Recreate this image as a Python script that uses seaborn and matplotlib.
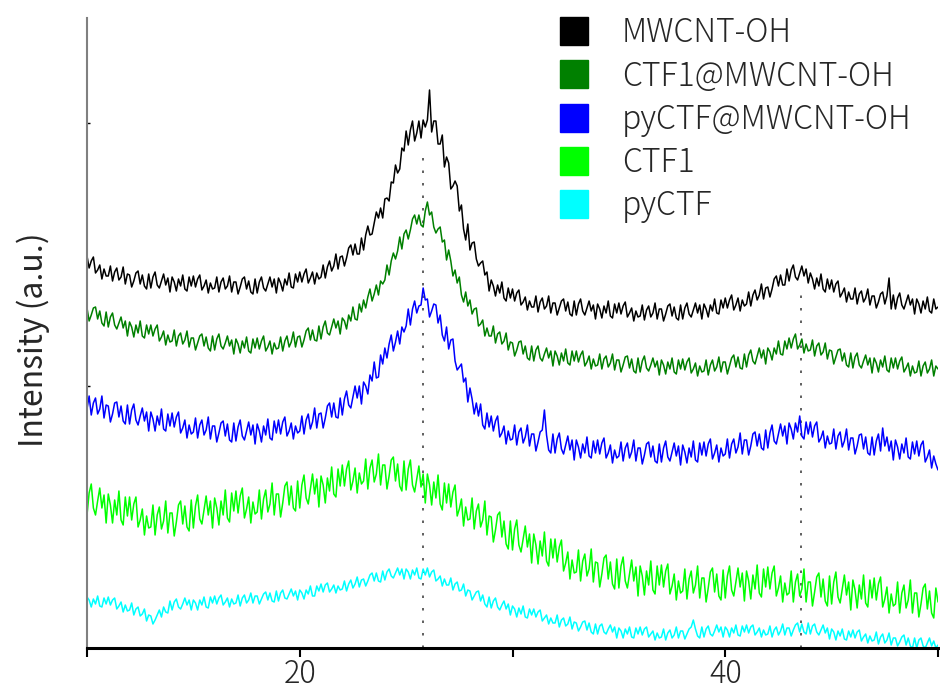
import numpy as np
import pandas as pd
import matplotlib
matplotlib.use("Agg")
import matplotlib.pyplot as plt
from matplotlib.lines import Line2D
import seaborn as sns

# 2-theta sampling (degrees), 0.1 deg step
two_theta = np.round(np.linspace(10, 50, 401), 2)

# Stacked XRD intensities (a.u., offsets included)
mwcnt_oh = [
    392, 380, 387, 391, 375, 378, 383, 369, 379, 372,
    372, 382, 367, 376, 380, 368, 371, 381, 364, 374,
    373, 361, 367, 375, 377, 364, 373, 362, 359, 374,
    360, 371, 376, 363, 360, 367, 374, 363, 370, 356,
    371, 366, 357, 369, 362, 373, 359, 357, 371, 362,
    372, 361, 369, 373, 358, 362, 368, 355, 365, 359,
    360, 371, 356, 366, 370, 359, 362, 372, 356, 366,
    366, 354, 361, 369, 371, 359, 367, 356, 354, 369,
    355, 366, 371, 360, 357, 364, 371, 361, 369, 355,
    370, 365, 357, 369, 363, 375, 361, 360, 374, 366,
    376, 366, 374, 379, 365, 370, 376, 364, 375, 369,
    371, 383, 370, 381, 387, 377, 382, 394, 379, 391,
    392, 382, 390, 400, 403, 393, 404, 394, 394, 410,
    398, 413, 422, 413, 414, 425, 436, 430, 440, 430,
    449, 450, 447, 466, 465, 483, 475, 479, 500, 497,
    517, 503, 518, 527, 507, 515, 527, 510, 528, 521,
    528, 558, 516, 527, 527, 504, 504, 513, 481, 491,
    485, 459, 462, 467, 462, 437, 443, 419, 408, 424,
    398, 405, 406, 389, 382, 385, 387, 373, 376, 357,
    368, 362, 352, 363, 355, 366, 350, 347, 360, 350,
    359, 347, 355, 358, 343, 346, 351, 338, 347, 341,
    341, 352, 336, 346, 350, 339, 342, 352, 335, 345,
    345, 333, 340, 347, 349, 337, 346, 334, 332, 347,
    333, 344, 349, 337, 333, 340, 347, 337, 343, 329,
    344, 339, 330, 342, 335, 347, 332, 330, 344, 335,
    345, 334, 342, 346, 331, 335, 340, 327, 337, 331,
    332, 343, 328, 338, 342, 331, 335, 345, 329, 339,
    339, 327, 334, 342, 344, 332, 341, 330, 328, 343,
    329, 340, 345, 334, 331, 338, 345, 335, 343, 329,
    344, 339, 331, 343, 337, 349, 335, 334, 348, 340,
    350, 340, 348, 353, 338, 343, 350, 337, 348, 342,
    344, 356, 342, 353, 358, 348, 353, 364, 349, 360,
    361, 351, 359, 369, 372, 362, 373, 363, 363, 379,
    367, 378, 383, 371, 368, 375, 382, 372, 379, 365,
    375, 369, 359, 370, 362, 374, 359, 356, 369, 359,
    368, 356, 364, 367, 351, 355, 360, 346, 356, 349,
    349, 360, 344, 354, 357, 346, 350, 359, 343, 352,
    352, 340, 346, 354, 356, 344, 352, 370, 339, 353,
    339, 350, 355, 343, 339, 346, 353, 343, 349, 334,
    349, 344, 335, 347, 339, 351, 337, 335, 349, 339,
    341,
]

ctf1_mwcnt = [
    340, 327, 333, 340, 341, 329, 337, 325, 322, 336,
    321, 331, 335, 323, 319, 325, 331, 320, 327, 312,
    326, 321, 311, 323, 315, 327, 312, 310, 323, 314,
    323, 312, 319, 323, 307, 311, 317, 303, 313, 306,
    307, 318, 302, 312, 315, 304, 308, 317, 301, 310,
    310, 298, 305, 312, 314, 302, 311, 300, 297, 312,
    298, 309, 314, 302, 299, 305, 312, 302, 308, 294,
    309, 304, 295, 307, 300, 311, 297, 295, 309, 300,
    310, 299, 307, 312, 297, 301, 307, 294, 305, 299,
    300, 311, 297, 307, 312, 301, 306, 316, 301, 311,
    312, 301, 308, 317, 320, 308, 318, 308, 307, 322,
    309, 321, 327, 315, 313, 321, 329, 320, 327, 314,
    330, 327, 319, 333, 327, 341, 329, 328, 344, 336,
    348, 340, 351, 359, 347, 354, 363, 353, 367, 364,
    368, 383, 373, 387, 395, 389, 397, 411, 399, 414,
    418, 409, 418, 429, 433, 424, 433, 423, 421, 437,
    446, 433, 436, 421, 415, 419, 421, 406, 408, 388,
    398, 387, 372, 378, 365, 371, 353, 346, 356, 342,
    348, 334, 339, 340, 322, 324, 328, 312, 320, 312,
    312, 322, 305, 314, 316, 304, 307, 315, 298, 306,
    305, 292, 298, 306, 307, 294, 302, 290, 288, 302,
    287, 298, 302, 290, 287, 294, 300, 290, 297, 282,
    297, 292, 283, 295, 287, 299, 285, 283, 297, 287,
    297, 286, 293, 297, 282, 286, 292, 279, 289, 282,
    283, 294, 279, 289, 292, 281, 285, 294, 278, 288,
    288, 276, 283, 291, 292, 280, 289, 277, 275, 290,
    276, 287, 292, 280, 277, 283, 290, 281, 287, 273,
    288, 283, 274, 286, 279, 290, 276, 274, 288, 279,
    289, 278, 286, 290, 275, 279, 285, 272, 282, 276,
    277, 288, 273, 283, 288, 277, 281, 291, 276, 286,
    286, 274, 282, 290, 293, 281, 291, 280, 279, 294,
    281, 293, 298, 287, 284, 292, 300, 290, 298, 284,
    300, 296, 288, 300, 294, 307, 294, 293, 307, 299,
    310, 300, 309, 314, 299, 303, 309, 295, 304, 297,
    298, 308, 292, 302, 305, 293, 296, 305, 289, 298,
    297, 284, 291, 298, 299, 287, 295, 283, 281, 295,
    280, 291, 295, 283, 280, 287, 293, 283, 290, 275,
    290, 285, 276, 288, 281, 292, 278, 276, 290, 280,
    290, 279, 287, 291, 276, 280, 285, 272, 282, 275,
    276, 287, 272, 282, 286, 275, 279, 288, 272, 282,
    279,
]

pyctf_mwcnt = [
    239, 252, 233, 245, 250, 234, 239, 252, 230, 243,
    242, 226, 234, 245, 246, 231, 242, 227, 224, 243,
    224, 238, 244, 228, 223, 232, 240, 227, 236, 217,
    236, 229, 217, 232, 223, 239, 219, 217, 234, 222,
    235, 221, 231, 236, 215, 220, 228, 210, 223, 214,
    216, 230, 210, 223, 228, 213, 218, 231, 209, 222,
    222, 206, 215, 225, 227, 212, 224, 208, 206, 225,
    207, 221, 228, 212, 208, 217, 226, 213, 223, 204,
    224, 217, 206, 222, 213, 229, 210, 208, 227, 215,
    228, 214, 226, 231, 212, 217, 225, 209, 222, 215,
    217, 232, 214, 228, 234, 219, 226, 240, 220, 234,
    235, 220, 230, 242, 245, 231, 245, 231, 230, 250,
    233, 249, 257, 243, 240, 251, 262, 250, 262, 244,
    266, 262, 254, 273, 267, 286, 270, 271, 293, 284,
    300, 290, 304, 313, 297, 306, 317, 304, 321, 316,
    322, 339, 323, 339, 347, 335, 342, 343, 360, 348,
    349, 331, 337, 344, 343, 325, 333, 313, 307, 321,
    299, 308, 309, 287, 278, 281, 284, 266, 270, 246,
    260, 249, 234, 245, 232, 244, 223, 219, 235, 221,
    232, 217, 227, 232, 211, 215, 222, 204, 217, 208,
    209, 223, 203, 216, 220, 205, 211, 223, 202, 214,
    214, 197, 206, 216, 218, 238, 213, 198, 195, 214,
    195, 209, 215, 199, 194, 203, 212, 198, 208, 188,
    208, 201, 190, 204, 195, 211, 192, 190, 207, 195,
    208, 194, 205, 210, 190, 195, 203, 185, 198, 190,
    192, 206, 187, 200, 205, 190, 196, 208, 187, 200,
    200, 184, 193, 204, 206, 191, 202, 187, 185, 204,
    186, 200, 207, 191, 187, 196, 205, 192, 202, 183,
    203, 196, 185, 200, 191, 207, 188, 186, 205, 193,
    206, 192, 204, 209, 189, 195, 203, 186, 200, 192,
    194, 209, 190, 204, 209, 195, 201, 215, 194, 208,
    208, 193, 202, 214, 216, 202, 214, 200, 198, 218,
    200, 215, 223, 207, 204, 214, 224, 212, 222, 204,
    225, 219, 209, 225, 216, 232, 212, 209, 226, 214,
    226, 211, 222, 226, 206, 210, 217, 200, 212, 204,
    205, 219, 199, 212, 216, 201, 207, 219, 198, 210,
    210, 194, 202, 213, 214, 199, 211, 195, 193, 211,
    193, 207, 214, 197, 220, 202, 211, 197, 207, 188,
    208, 201, 189, 204, 195, 210, 191, 189, 206, 194,
    207, 192, 203, 207, 186, 191, 198, 180, 192, 184,
    178,
]

ctf1 = [
    133, 155, 164, 140, 133, 147, 160, 140, 153, 125,
    154, 143, 125, 148, 133, 157, 128, 123, 151, 132,
    151, 128, 144, 151, 121, 128, 139, 113, 132, 120,
    121, 143, 113, 133, 141, 119, 127, 147, 115, 135,
    135, 112, 126, 143, 147, 124, 142, 121, 117, 148,
    120, 142, 153, 129, 124, 138, 152, 133, 147, 120,
    150, 140, 123, 147, 133, 158, 130, 126, 155, 137,
    157, 135, 152, 160, 130, 139, 151, 125, 146, 134,
    136, 158, 129, 149, 158, 136, 144, 165, 133, 154,
    154, 131, 145, 162, 166, 143, 162, 140, 137, 167,
    140, 163, 173, 150, 144, 159, 174, 154, 169, 141,
    172, 163, 145, 170, 157, 181, 154, 151, 179, 162,
    183, 162, 179, 187, 158, 167, 180, 155, 175, 164,
    167, 189, 159, 180, 188, 166, 174, 194, 163, 183,
    183, 159, 172, 188, 191, 167, 184, 162, 157, 187,
    158, 179, 188, 163, 156, 169, 182, 161, 174, 145,
    174, 163, 143, 166, 150, 173, 144, 138, 165, 145,
    164, 141, 156, 163, 132, 139, 149, 122, 141, 128,
    129, 150, 119, 137, 144, 121, 128, 147, 113, 132,
    131, 106, 118, 133, 136, 111, 127, 104, 99, 127,
    98, 119, 128, 103, 96, 109, 122, 101, 114, 85,
    114, 103, 84, 107, 92, 116, 87, 82, 109, 90,
    109, 86, 101, 108, 77, 85, 96, 69, 88, 75,
    76, 98, 67, 87, 94, 72, 79, 99, 66, 86,
    85, 61, 74, 90, 93, 69, 86, 64, 59, 89,
    60, 82, 91, 67, 60, 74, 88, 67, 81, 52,
    82, 72, 53, 77, 63, 87, 58, 54, 82, 63,
    83, 61, 77, 84, 54, 62, 74, 48, 67, 55,
    57, 79, 49, 69, 77, 55, 63, 82, 50, 70,
    70, 46, 60, 76, 80, 56, 74, 52, 48, 78,
    50, 72, 82, 58, 52, 66, 80, 61, 75, 47,
    77, 67, 49, 73, 59, 83, 55, 51, 79, 61,
    81, 59, 75, 82, 52, 60, 72, 46, 65, 53,
    55, 77, 46, 66, 74, 52, 59, 79, 46, 66,
    66, 42, 56, 71, 75, 51, 69, 47, 42, 72,
    44, 66, 76, 51, 45, 59, 73, 53, 66, 38,
    68, 58, 40, 63, 49, 73, 45, 41, 68, 50,
    70, 48, 64, 71, 41, 49, 61, 35, 54, 42,
    44, 66, 35, 55, 63, 40, 48, 68, 35, 55,
    55, 31, 44, 60, 64, 39, 57, 35, 30, 60,
    46,
]

pyctf = [
    51, 48, 41, 49, 44, 52, 42, 41, 50, 44,
    51, 43, 48, 50, 39, 42, 46, 36, 43, 37,
    38, 45, 33, 39, 41, 32, 34, 39, 27, 33,
    32, 24, 28, 33, 38, 31, 41, 36, 35, 47,
    38, 46, 49, 41, 39, 44, 50, 43, 48, 38,
    48, 45, 38, 48, 43, 51, 41, 40, 51, 45,
    52, 44, 50, 53, 43, 46, 50, 41, 49, 44,
    45, 53, 42, 50, 53, 45, 48, 55, 45, 52,
    52, 44, 49, 54, 56, 48, 55, 47, 46, 57,
    47, 55, 58, 50, 49, 54, 59, 52, 57, 48,
    58, 55, 49, 58, 54, 62, 52, 52, 62, 57,
    64, 56, 63, 65, 56, 59, 63, 55, 62, 58,
    59, 67, 57, 64, 68, 60, 64, 71, 61, 68,
    69, 62, 67, 73, 75, 67, 75, 67, 66, 77,
    68, 76, 79, 72, 70, 75, 80, 73, 79, 69,
    79, 76, 69, 78, 73, 80, 70, 69, 79, 73,
    80, 71, 76, 78, 67, 69, 72, 62, 69, 63,
    63, 70, 58, 64, 66, 57, 58, 64, 52, 58,
    57, 48, 52, 56, 57, 47, 53, 44, 41, 51,
    40, 47, 50, 41, 38, 43, 47, 39, 44, 33,
    42, 39, 31, 40, 34, 42, 31, 30, 39, 33,
    39, 31, 36, 38, 27, 30, 33, 24, 30, 25,
    25, 33, 21, 28, 30, 22, 24, 31, 19, 26,
    25, 17, 21, 26, 27, 18, 25, 16, 14, 24,
    14, 22, 24, 16, 14, 19, 23, 16, 21, 10,
    20, 17, 10, 19, 14, 21, 11, 10, 20, 14,
    21, 13, 19, 21, 11, 14, 17, 8, 15, 10,
    11, 19, 8, 15, 18, 10, 13, 21, 10, 17,
    17, 9, 14, 19, 21, 28, 19, 12, 10, 21,
    11, 19, 22, 14, 12, 17, 23, 16, 21, 11,
    21, 18, 11, 20, 15, 23, 13, 12, 22, 16,
    23, 15, 21, 23, 13, 16, 20, 11, 18, 13,
    14, 22, 11, 18, 21, 13, 17, 24, 13, 20,
    20, 12, 18, 23, 25, 16, 24, 16, 14, 25,
    14, 22, 24, 16, 13, 18, 23, 15, 20, 9,
    19, 16, 8, 17, 12, 19, 9, 8, 17, 11,
    18, 10, 16, 18, 7, 11, 14, 5, 12, 7,
    8, 16, 4, 11, 14, 5, 8, 15, 3, 10,
    10, 2, 6, 11, 13, 3, 10, 2, 0, 10,
    0, 8, 10, 2, 0, 5, 10, 2, 7, 0,
    3,
]

samples = ["MWCNT-OH", "CTF1@MWCNT-OH", "pyCTF@MWCNT-OH", "CTF1", "pyCTF"]
colors = ["#000000", "#008000", "#0000FF", "#00FF00", "#00FFFF"]
series = [mwcnt_oh, ctf1_mwcnt, pyctf_mwcnt, ctf1, pyctf]

# reference reflections (deg) and the height their guide lines reach
ref_peaks = [25.8, 43.55]
ref_tops = [495, 357]

x_ticks = [10, 20, 30, 40, 50]
x_ticklabels = ["", "20", "", "40", ""]

df = pd.concat(
    [pd.DataFrame({"two_theta": two_theta, "intensity": s, "sample": name})
     for name, s in zip(samples, series)],
    ignore_index=True,
)

sns.set_style("white")
plt.rcParams["font.family"] = ["Noto Sans CJK JP", "DejaVu Sans"]
plt.rcParams["font.weight"] = "light"

fig = plt.figure(figsize=(9.4, 6.91), dpi=100)
ax = fig.add_axes([87 / 940, 1 - 648 / 691, (938 - 87) / 940, (648 - 18) / 691])

ax.vlines(ref_peaks, 0, ref_tops, colors="#444444", linestyles=(0, (1.5, 6)),
          linewidth=1.2, zorder=1)

sns.lineplot(data=df, x="two_theta", y="intensity", hue="sample",
             hue_order=samples[::-1], palette=dict(zip(samples, colors)),
             estimator=None, sort=False, linewidth=1.1, legend=False, ax=ax,
             zorder=2)

ax.set_xlim(10, 50)
ax.set_ylim(0, 630)
ax.set_xticks(x_ticks)
ax.set_xticklabels(x_ticklabels)
ax.set_yticks([0, 262, 525])
ax.set_yticklabels([])
ax.set_xlabel("")
ax.set_ylabel("Intensity (a.u.)", fontsize=23)
ax.yaxis.set_label_coords(-0.044, 0.49)

for side in ("top", "right"):
    ax.spines[side].set_visible(False)
ax.spines["left"].set_color("#808080")
ax.spines["left"].set_linewidth(1.5)
ax.spines["bottom"].set_color("#000000")
ax.spines["bottom"].set_linewidth(2.2)

ax.tick_params(axis="x", direction="out", length=6.5, width=1.5, color="black",
               labelsize=22, pad=1, bottom=True)
ax.tick_params(axis="y", direction="in", length=2.5, width=1.0, color="black",
               left=True)

handles = [Line2D([0], [0], marker="s", linestyle="", markersize=20,
                  markerfacecolor=c, markeredgecolor=c) for c in colors]
ax.legend(handles, samples, loc="upper left", bbox_to_anchor=(558 / 940, 1 - 16 / 691),
          bbox_transform=fig.transFigure, frameon=False, fontsize=23,
          handlelength=1.0, handletextpad=1.0, labelspacing=0.27,
          borderpad=0, borderaxespad=0)

fig.savefig("out.png", dpi=100)
